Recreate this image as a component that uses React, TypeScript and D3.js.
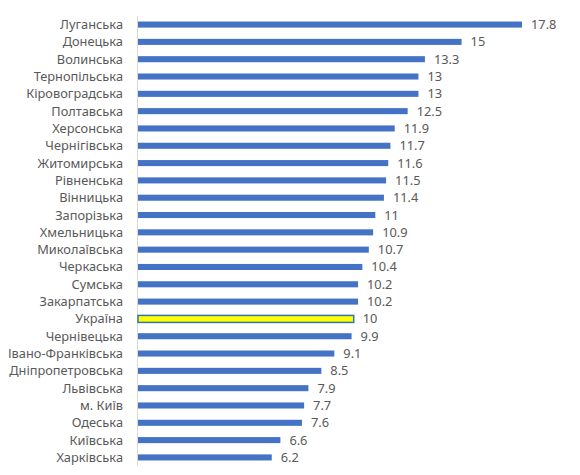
import React from "react";
import * as d3 from "d3";

const regions = ["Луганська","Донецька","Волинська","Тернопільська","Кіровоградська","Полтавська","Херсонська","Чернігівська","Житомирська","Рівненська","Вінницька","Запорізька","Хмельницька","Миколаївська","Черкаська","Сумська","Закарпатська","Україна","Чернівецька","Івано-Франківська","Дніпропетровська","Львівська","м. Київ","Одеська","Київська","Харківська"];
const values = [17.8,15,13.3,13,13,12.5,11.9,11.7,11.6,11.5,11.4,11,10.9,10.7,10.4,10.2,10.2,10,9.9,9.1,8.5,7.9,7.7,7.6,6.6,6.2];
const highlight = "Україна";

export default function App() {
  const W = 580, H = 475;
  const x = d3.scaleLinear().domain([0, 17.8]).range([138, 522]);
  const y = d3.scaleBand().domain(regions).range([16, 466]).paddingInner(0.65).paddingOuter(0.32);
  const font = "'Noto Sans', 'Open Sans', sans-serif";
  return (
    <svg width={W} height={H} style={{ position: "absolute", left: 0, top: 0, background: "#fff" }}>
      <line x1={137.5} x2={137.5} y1={16} y2={466} stroke="#d9d9d9" strokeWidth={1} />
      {regions.map((r, i) => {
        const v = values[i];
        const cy = y(r)! + y.bandwidth() / 2;
        const isH = r === highlight;
        const h = isH ? 7 : y.bandwidth();
        return (
          <g key={r}>
            <rect x={x(0)} y={cy - h / 2} width={x(v) - x(0)} height={h}
              fill={isH ? "#ffff00" : "#4472c4"} stroke={isH ? "#2e75b6" : "none"} strokeWidth={isH ? 1.5 : 0} />
            <text x={123} y={cy} dy="0.35em" textAnchor="end" fontFamily={font} fontSize={12.8} fill="#595959">{r}</text>
            <text x={x(v) + 9} y={cy} dy="0.35em" textAnchor="start" fontFamily={font} fontSize={12.8} fill="#595959">{String(v)}</text>
          </g>
        );
      })}
    </svg>
  );
}
